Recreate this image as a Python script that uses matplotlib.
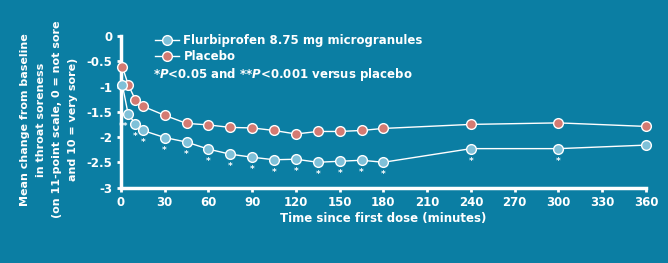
import matplotlib
matplotlib.use("Agg")
import matplotlib.pyplot as plt
from matplotlib.lines import Line2D

times = [1, 5, 10, 15, 30, 45, 60, 75, 90, 105, 120, 135, 150, 165, 180, 240, 300, 360]
flurbiprofen = [-0.97, -1.55, -1.74, -1.87, -2.01, -2.10, -2.24, -2.34, -2.40, -2.45, -2.44,
                -2.50, -2.48, -2.46, -2.50, -2.23, -2.23, -2.16]
placebo = [-0.61, -0.96, -1.27, -1.39, -1.57, -1.73, -1.76, -1.81, -1.82, -1.87, -1.94,
           -1.89, -1.89, -1.87, -1.83, -1.75, -1.72, -1.79]
signif = ["", "**", "*", "*", "*", "*", "*", "*", "*", "*", "*", "*", "*", "*", "*", "*", "*", ""]
xticks = [0, 30, 60, 90, 120, 150, 180, 210, 240, 270, 300, 330, 360]
yticks = [0, -0.5, -1, -1.5, -2, -2.5, -3]
ytick_labels = ["0", "-0.5", "-1", "-1.5", "-2", "-2.5", "-3"]

BG = "#0b7ea3"
BLUE = "#7fc0d8"
RED = "#d47a72"
W = "white"

fig = plt.figure(figsize=(6.68, 2.63), dpi=100, facecolor=BG)
ax = fig.add_axes([0.181, 0.287, 0.786, 0.576], facecolor=BG)

ax.plot(times, placebo, color=W, lw=1.0, marker="o", ms=7, mfc=RED, mec=W, mew=1.0,
        clip_on=False, zorder=3)
ax.plot(times, flurbiprofen, color=W, lw=1.0, marker="o", ms=7, mfc=BLUE, mec=W, mew=1.0,
        clip_on=False, zorder=3)
for t, v, s in zip(times, flurbiprofen, signif):
    if s:
        dx = -3 if s == "**" else 0
        ax.annotate(s, (t, v), xytext=(dx, -9), textcoords="offset points", ha="center",
                    va="center", color=W, fontsize=6.5, fontweight="bold", zorder=2)

ax.set_xlim(0, 360)
ax.set_ylim(-3, 0)
ax.set_xticks(xticks)
ax.set_yticks(yticks)
ax.set_yticklabels(ytick_labels)
for sp in ["top", "right"]:
    ax.spines[sp].set_visible(False)
for sp in ["left", "bottom"]:
    ax.spines[sp].set_color(W)
    ax.spines[sp].set_linewidth(2.5)
ax.tick_params(colors=W, width=2, length=3, direction="out", labelsize=8.5, pad=3)
for lab in ax.get_xticklabels() + ax.get_yticklabels():
    lab.set_fontweight("bold")

ax.set_xlabel("Time since first dose (minutes)", color=W, fontsize=8.5, fontweight="bold",
              labelpad=2)
fig.text(0.074, 0.545, "Mean change from baseline\nin throat soreness\n(on 11-point scale, 0 = not sore\nand 10 = very sore)",
         rotation=90, ha="center", va="center", color=W, fontsize=8, fontweight="bold",
         multialignment="center", linespacing=1.75)

handles = [Line2D([], [], color=W, lw=1.0, marker="o", ms=7, mfc=BLUE, mec=W, mew=1.0),
           Line2D([], [], color=W, lw=1.0, marker="o", ms=7, mfc=RED, mec=W, mew=1.0)]
leg = ax.legend(handles, ["Flurbiprofen 8.75 mg microgranules", "Placebo"],
                loc="upper left", bbox_to_anchor=(0.045, 1.085), frameon=False,
                handlelength=2.0, handletextpad=0.4, labelspacing=0.25,
                prop={"size": 8.5, "weight": "bold"})
for t in leg.get_texts():
    t.set_color(W)
fig.text(0.229, 0.715, r"*$\mathbfit{P}$<0.05 and **$\mathbfit{P}$<0.001 versus placebo",
         color=W, fontsize=8.5, fontweight="bold", ha="left", va="center")

fig.savefig("out.png", dpi=100, facecolor=BG)
